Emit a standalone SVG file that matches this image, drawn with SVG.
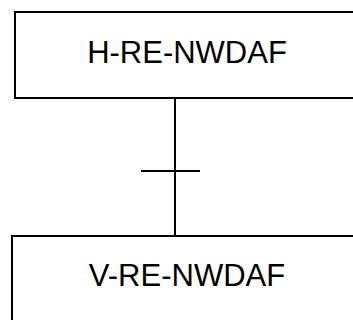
<svg xmlns="http://www.w3.org/2000/svg" width="353" height="320" viewBox="0 0 353 320">
<style>
.box{fill:#fff;stroke:#000;stroke-width:2}
.lbl{font-family:"Liberation Sans",Arial,sans-serif;font-size:31px;fill:#000;text-anchor:middle}
.conn{stroke:#000;stroke-width:2;fill:none}
</style>
<rect width="353" height="320" fill="#fff"/>
<g id="h-re-nwdaf">
<rect class="box" x="15" y="12" width="360" height="86"/>
<text class="lbl" x="187" y="63">H-RE-NWDAF</text>
</g>
<g id="v-re-nwdaf">
<rect class="box" x="12" y="236" width="366" height="100"/>
<text class="lbl" x="187" y="286">V-RE-NWDAF</text>
</g>
<g id="connectors">
<line class="conn" x1="175" y1="98" x2="175" y2="236"/>
<line class="conn" x1="141" y1="171" x2="200" y2="171"/>
</g>
</svg>
